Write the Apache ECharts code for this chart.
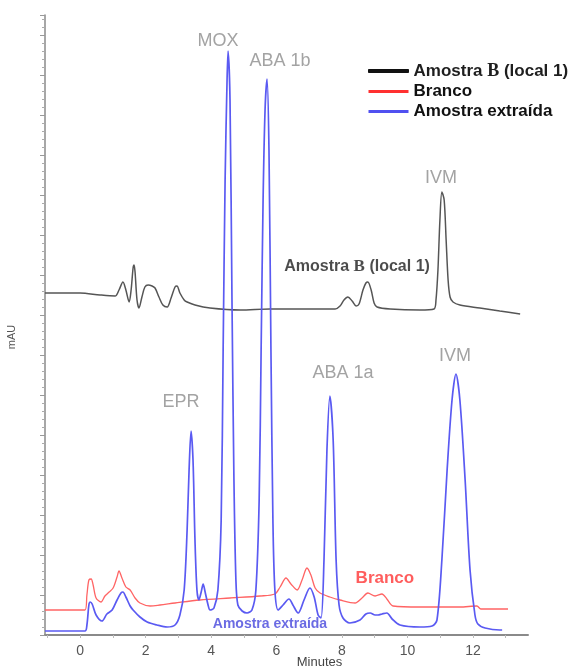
<!DOCTYPE html>
<html><head><meta charset="utf-8">
<script src="https://cdn.jsdelivr.net/npm/echarts@6/dist/echarts.min.js"></script>
<style>html,body{margin:0;padding:0;background:#fff}#c{width:586px;height:670px}</style>
</head><body><div id="c"></div>
<script>
// x tick labels (minutes)
const xTickValues = [0, 2, 4, 6, 8, 10, 12];
const xMinorTicks = [-1, 1, 3, 5, 7, 9, 11, 13];
const seriesNames = ['Amostra B (local 1)', 'Branco', 'Amostra extraída'];

// [minutes, mAU (relative)]
const amostraB = [[-1.07,342],[0.0,342],[0.61,340],[1.07,339],[1.19,345],[1.31,353],[1.40,345],[1.50,333],[1.56,345],[1.62,367],[1.65,370],[1.68,363],[1.74,335],[1.80,327],[1.89,338],[1.98,348],[2.08,350],[2.20,349],[2.29,347],[2.41,338],[2.53,330],[2.66,328],[2.78,337],[2.90,348],[2.96,349],[3.05,342],[3.18,335],[3.27,333],[3.51,330],[3.97,327],[4.89,325],[5.80,326],[6.72,326],[7.33,326],[7.79,326],[7.94,329],[8.06,335],[8.18,338],[8.31,334],[8.43,329],[8.52,331],[8.64,345],[8.73,352],[8.79,353],[8.89,345],[8.98,332],[9.07,328],[9.47,326],[10.38,325],[10.81,326],[10.87,335],[10.93,365],[10.99,415],[11.05,443],[11.12,435],[11.18,395],[11.24,355],[11.30,338],[11.39,333],[11.60,330],[12.21,327],[12.82,324],[13.44,321]];

const branco = [[-1.07,25],[0.15,25],[0.21,40],[0.27,55],[0.34,56],[0.40,50],[0.49,37],[0.64,33],[0.76,39],[0.89,43],[1.01,47],[1.13,58],[1.19,64],[1.28,57],[1.40,48],[1.53,45],[1.68,37],[1.83,32],[2.14,29],[2.44,30],[2.90,32],[3.66,35],[4.58,37],[5.50,39],[5.95,41],[6.11,48],[6.29,57],[6.44,51],[6.63,45],[6.78,55],[6.93,67],[7.05,60],[7.18,47],[7.33,42],[7.63,38],[7.94,35],[8.40,32],[8.61,37],[8.79,42],[9.01,39],[9.22,41],[9.37,36],[9.56,29],[10.38,28],[11.60,28],[12.12,29],[12.24,26],[13.07,26]];

const amostraExtraida = [[-1.07,4],[0.15,4],[0.21,10],[0.27,30],[0.31,33],[0.37,31],[0.49,20],[0.67,14],[0.82,21],[0.98,25],[1.13,35],[1.25,42],[1.31,43],[1.40,38],[1.53,29],[1.62,25],[1.83,18],[2.05,13],[2.35,10],[2.66,8],[2.90,10],[3.05,20],[3.18,45],[3.27,105],[3.33,165],[3.39,204],[3.45,175],[3.51,95],[3.57,45],[3.63,35],[3.70,43],[3.76,51],[3.82,43],[3.91,30],[3.97,25],[4.09,27],[4.21,45],[4.31,115],[4.37,285],[4.43,455],[4.49,555],[4.52,584],[4.58,535],[4.64,335],[4.70,155],[4.76,55],[4.82,30],[4.95,24],[5.10,22],[5.25,25],[5.37,45],[5.47,135],[5.53,285],[5.59,435],[5.65,525],[5.71,556],[5.77,485],[5.83,285],[5.89,115],[5.95,45],[6.05,25],[6.20,30],[6.38,36],[6.50,30],[6.66,22],[6.84,35],[7.02,47],[7.15,38],[7.27,20],[7.36,17],[7.45,75],[7.54,185],[7.63,239],[7.73,195],[7.82,75],[7.91,30],[8.03,17],[8.24,12],[8.55,15],[8.73,21],[8.86,22],[9.01,20],[9.10,20],[9.22,21],[9.37,22],[9.53,16],[9.77,10],[10.38,8],[10.75,9],[10.90,15],[11.05,75],[11.21,165],[11.36,235],[11.48,261],[11.60,235],[11.76,155],[11.91,65],[12.06,20],[12.15,11],[12.37,7],[12.82,5],[12.89,5]];

// peak names: [text, minutes, mAU]
const peakLabels = [['MOX',4.21,594],['ABA 1b',6.11,574],['IVM',11.02,457],['EPR',3.08,233],['ABA 1a',8.03,262],['IVM',11.45,279]];
const traceLabels = [['Amostra B (local 1)',8.46,368],['Branco',9.31,57],['Amostra extraída',5.80,11]];

const FONT = '"Liberation Sans", Arial, sans-serif';
function richB(size) {
  return {
    a: {fontFamily: FONT, fontWeight: 'bold', fontSize: size, color: '#1e1e1e'},
    b: {fontFamily: '"Liberation Serif", "DejaVu Serif", serif', fontWeight: 'bold', fontSize: size + 1, color: '#1e1e1e'}
  };
}
function fmtB(name) {
  return name === seriesNames[0] ? '{a|Amostra }{b|B}{a| (local 1)}' : name;
}

const traceStyles = [
  {color: '#222', fontSize: 16, formatter: () => fmtB(seriesNames[0]), rich: richB(16)},
  {color: '#ff3535', fontSize: 17},
  {color: '#4646dc', fontSize: 14}
];

const labelData = peakLabels.map(p => ({
  name: p[0], value: [p[1], p[2]],
  label: {color: '#8c8c8c', fontSize: 18, fontFamily: FONT}
})).concat(traceLabels.map((p, i) => ({
  name: p[0], value: [p[1], p[2]],
  label: Object.assign({fontWeight: 'bold', fontFamily: FONT}, traceStyles[i])
})));

const chart = echarts.init(document.getElementById('c'), null, {renderer: 'canvas'});
chart.setOption({
  animation: false,
  backgroundColor: '#fff',
  grid: {left: 45, right: 58, top: 15, bottom: 35, containLabel: false, outerBoundsMode: 'none'},
  legend: {
    data: [
      {name: seriesNames[0], icon: 'rect', itemStyle: {color: '#111', borderColor: '#111', borderWidth: 1}},
      {name: seriesNames[1], icon: 'rect', itemStyle: {color: '#ff3030', borderWidth: 0}},
      {name: seriesNames[2], icon: 'rect', itemStyle: {color: '#5050f0', borderWidth: 0}}
    ],
    orient: 'vertical', left: 363, top: 57,
    itemWidth: 40, itemHeight: 3, itemGap: 3, itemTextGap: 12,
    formatter: fmtB,
    textStyle: {fontFamily: FONT, fontWeight: 'bold', fontSize: 17, color: '#111', rich: richB(17)}
  },
  xAxis: {
    type: 'value', min: -1.07, max: 13.68,
    name: 'Minutes', nameLocation: 'middle', nameGap: 21, nameMoveOverlap: false,
    nameTextStyle: {fontFamily: FONT, fontSize: 13, color: '#444', padding: [0, 0, 0, 66]},
    axisLine: {show: true, onZero: false, lineStyle: {color: '#8a8a8a', width: 2}},
    axisTick: {show: true, customValues: xTickValues.concat(xMinorTicks), length: 3, lineStyle: {color: '#bbb'}},
    axisLabel: {customValues: xTickValues, margin: 9, fontFamily: FONT, fontSize: 14, color: '#555'},
    splitLine: {show: false}
  },
  yAxis: {
    type: 'value', min: 0, max: 620, interval: 40,
    name: 'mAU', nameLocation: 'middle', nameGap: 28, nameRotate: 90,
    nameTextStyle: {fontFamily: FONT, fontSize: 11, color: '#555', padding: [0, 24, 0, 0]},
    axisLine: {show: true, onZero: false, lineStyle: {color: '#8a8a8a', width: 1.5}},
    axisTick: {show: true, length: 5, lineStyle: {color: '#999'}},
    minorTick: {show: true, splitNumber: 5, length: 3, lineStyle: {color: '#aaa'}},
    axisLabel: {show: false},
    splitLine: {show: false}
  },
  series: [
    {name: seriesNames[0], type: 'line', data: amostraB, symbol: 'none', smooth: 0.3,
     lineStyle: {color: '#555', width: 1.5}, itemStyle: {color: '#111'}, z: 2},
    {name: seriesNames[1], type: 'line', data: branco, symbol: 'none', smooth: 0.3,
     lineStyle: {color: '#ff6464', width: 1.3}, itemStyle: {color: '#ff3030'}, z: 3},
    {name: seriesNames[2], type: 'line', data: amostraExtraida, symbol: 'none', smooth: 0.3,
     lineStyle: {color: '#5a5af2', width: 1.7}, itemStyle: {color: '#5050f0'}, z: 4},
    {name: '_labels', type: 'scatter', data: labelData, symbolSize: 0, silent: true, z: 10,
     label: {show: true, position: 'inside', formatter: '{b}'}}
  ]
});
</script>
</body></html>
